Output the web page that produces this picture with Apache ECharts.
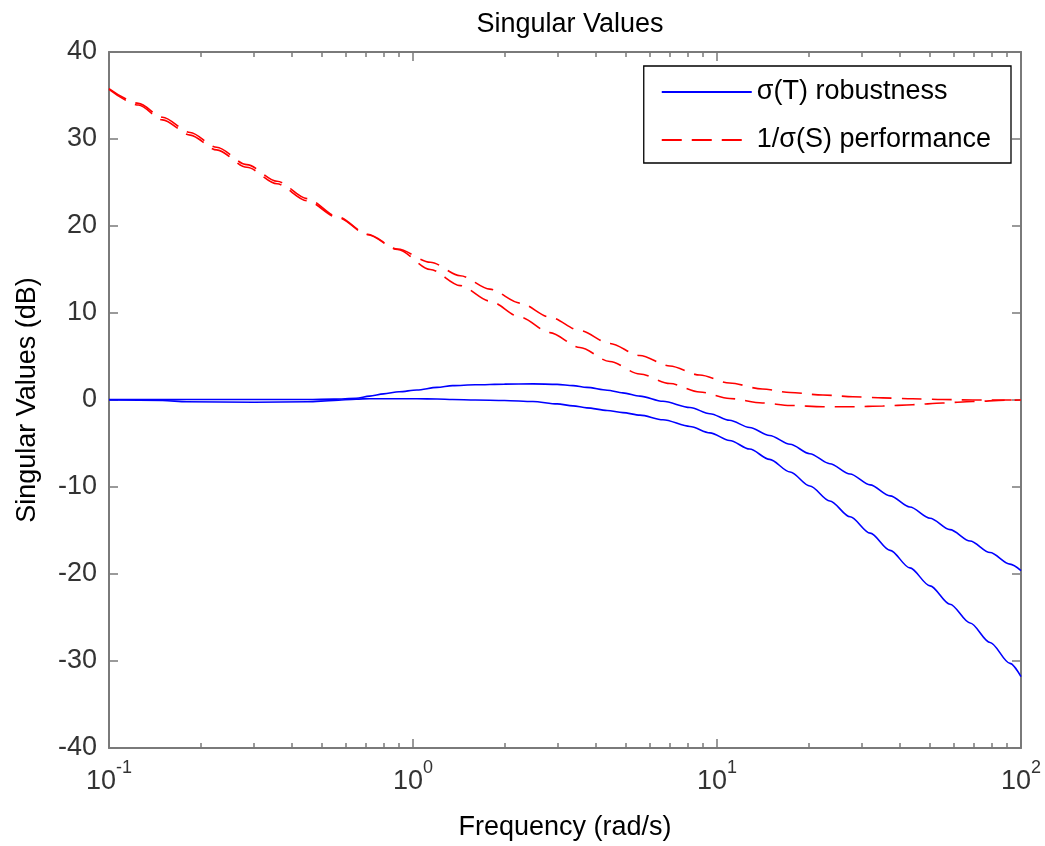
<!DOCTYPE html>
<html>
<head>
<meta charset="utf-8">
<script src="https://cdn.jsdelivr.net/npm/echarts@6/dist/echarts.min.js"></script>
<style>html,body{margin:0;padding:0;background:#fff}#c{width:1045px;height:846px}</style>
</head>
<body>
<div id="c"></div>
<script>
// ---- Data ----
const freqBlue = [0.1, 0.15, 0.18, 0.3, 0.45, 0.55, 0.65, 0.72, 0.8, 0.9, 1.03, 1.2, 1.35, 1.6, 2.0, 2.48, 2.98, 3.36, 3.73, 4.35, 4.9, 5.58, 6.64, 8.15, 9.48, 11.0, 12.8, 14.9, 17.4, 20.2, 23.5, 27.4, 31.9, 37.1, 43.1, 50.2, 58.4, 68.0, 79.1, 92.0, 100];
const sigmaT_upper = [0.05, 0.05, 0.05, 0.05, 0.05, 0.1, 0.2, 0.45, 0.7, 0.95, 1.15, 1.45, 1.65, 1.75, 1.82, 1.85, 1.8, 1.65, 1.45, 1.12, 0.82, 0.45, -0.15, -0.86, -1.58, -2.33, -3.16, -4.08, -5.09, -6.17, -7.32, -8.51, -9.75, -11.02, -12.3, -13.59, -14.9, -16.21, -17.53, -18.86, -19.6];
const sigmaT_lower = [0.0, -0.05, -0.2, -0.25, -0.2, -0.05, 0.1, 0.15, 0.15, 0.15, 0.15, 0.12, 0.05, 0.0, -0.05, -0.17, -0.45, -0.67, -0.9, -1.2, -1.45, -1.74, -2.27, -3.04, -3.78, -4.65, -5.64, -6.83, -8.28, -9.89, -11.61, -13.42, -15.3, -17.28, -19.3, -21.36, -23.47, -25.63, -27.87, -30.27, -31.8];

const freqRed = [0.1, 0.125, 0.15, 0.185, 0.226, 0.284, 0.357, 0.448, 0.566, 0.71, 0.89, 1.14, 1.43, 1.79, 2.25, 2.82, 3.54, 4.44, 5.57, 7.0, 8.77, 11.0, 14.1, 17.4, 22.3, 28.0, 35.1, 44.0, 55.2, 69.3, 89.1, 100];
const invS_upper = [35.8, 34.1, 32.5, 30.75, 29.05, 27.05, 25.15, 23.15, 21.05, 19.05, 17.35, 15.84, 14.29, 12.74, 11.14, 9.53, 7.98, 6.49, 5.11, 3.91, 2.87, 1.95, 1.26, 0.86, 0.57, 0.38, 0.24, 0.14, 0.06, 0.0, 0.0, 0.0];
const invS_lower = [35.7, 33.9, 32.2, 30.45, 28.75, 26.75, 24.85, 22.9, 20.95, 19.0, 17.3, 15.0, 13.15, 11.37, 9.53, 7.75, 6.03, 4.42, 2.99, 1.89, 0.92, 0.17, -0.34, -0.63, -0.77, -0.78, -0.69, -0.54, -0.34, -0.17, -0.03, 0.0];

const xMajorTicks = [0.1, 1, 10, 100];
const minorMultipliers = [2, 3, 4, 5, 6, 7, 8, 9];
const yMin = -40, yMax = 40, yStep = 10;

const nameT = 'σ(T) robustness';
const nameS = '1/σ(S) performance';
const titleText = 'Singular Values';
const xName = 'Frequency (rad/s)';
const yName = 'Singular Values (dB)';

// ---- Build ----
const xMinorTicks = [];
xMajorTicks.slice(0, -1).forEach(d => minorMultipliers.forEach(m => xMinorTicks.push(+(d * m).toPrecision(3))));
const pairs = (xs, ys) => xs.map((x, i) => [x, ys[i]]);

const FONT = '"Liberation Sans", Arial, Helvetica, sans-serif';
const AX = '#7a7a7a';
const BLUE = '#0000ff', RED = '#ff0000';

function xAxisDef(pos, major, withLabel) {
  return {
    type: 'log', logBase: 10, min: 0.1, max: 100, position: pos, gridIndex: 0,
    axisLine: { show: major, onZero: false, lineStyle: { color: AX, width: 2 } },
    axisTick: { show: true, inside: true, length: major ? 9 : 5, customValues: major ? xMajorTicks : xMinorTicks, lineStyle: { color: AX, width: 1.5 } },
    axisLabel: withLabel ? {
      show: true, customValues: xMajorTicks, margin: 11,
      formatter: v => '{b|10}{e|' + Math.round(Math.log10(v)) + '}',
      rich: {
        b: { fontSize: 27, fontFamily: FONT, color: '#333', verticalAlign: 'bottom', padding: [9, 0, 0, 0] },
        e: { fontSize: 18, fontFamily: FONT, color: '#333', verticalAlign: 'top' }
      }
    } : { show: false },
    splitLine: { show: false },
    minorTick: { show: false },
    name: withLabel ? xName : '',
    nameLocation: 'middle', nameGap: 66,
    nameTextStyle: { fontSize: 27, fontFamily: FONT, color: '#000' }
  };
}

function yAxisDef(pos, withLabel) {
  return {
    type: 'value', min: yMin, max: yMax, interval: yStep, position: pos, gridIndex: 0,
    axisLine: { show: true, onZero: false, lineStyle: { color: AX, width: 2 } },
    axisTick: { show: true, inside: true, length: 9, lineStyle: { color: AX, width: 1.5 } },
    axisLabel: withLabel ? { show: true, margin: 12, fontSize: 27, fontFamily: FONT, color: '#333' } : { show: false },
    splitLine: { show: false },
    name: withLabel ? yName : '',
    nameLocation: 'middle', nameGap: 68,
    nameTextStyle: { fontSize: 27, fontFamily: FONT, color: '#000' }
  };
}

function lineSeries(name, data, color, dashed) {
  return {
    type: 'line', name, data, xAxisIndex: 0, yAxisIndex: 0,
    showSymbol: false, symbol: 'none', smooth: 0.3, smoothMonotone: 'x',
    lineStyle: { color, width: 1.6, type: dashed ? [20, 10] : 'solid' },
    itemStyle: { color },
    emphasis: { disabled: true }, silent: true
  };
}

const option = {
  animation: false,
  backgroundColor: '#fff',
  title: {
    text: titleText, left: 565, top: 6, textAlign: 'center',
    textStyle: { fontSize: 27, fontWeight: 'normal', fontFamily: FONT, color: '#000' }
  },
  legend: {
    data: [nameT, nameS], orient: 'vertical', right: 34, top: 66,
    padding: [12, 20, 9, 17], itemWidth: 90, itemHeight: 20, itemGap: 20,
    borderColor: '#000', borderWidth: 1.3, backgroundColor: '#fff',
    selectedMode: false,
    itemStyle: { opacity: 0 },
    lineStyle: { width: 2 },
    textStyle: { fontSize: 27, lineHeight: 28, fontFamily: FONT, color: '#000' }
  },
  grid: { left: 109, right: 24, top: 52, bottom: 97 },
  xAxis: [
    xAxisDef('bottom', true, true),
    xAxisDef('bottom', false, false),
    xAxisDef('top', true, false),
    xAxisDef('top', false, false)
  ],
  yAxis: [yAxisDef('left', true), yAxisDef('right', false)],
  series: [
    lineSeries(nameT, pairs(freqBlue, sigmaT_upper), BLUE, false),
    lineSeries(nameT, pairs(freqBlue, sigmaT_lower), BLUE, false),
    lineSeries(nameS, pairs(freqRed, invS_upper), RED, true),
    lineSeries(nameS, pairs(freqRed, invS_lower), RED, true)
  ]
};

const chart = echarts.init(document.getElementById('c'), null, { renderer: 'canvas' });
chart.setOption(option);
</script>
</body>
</html>
